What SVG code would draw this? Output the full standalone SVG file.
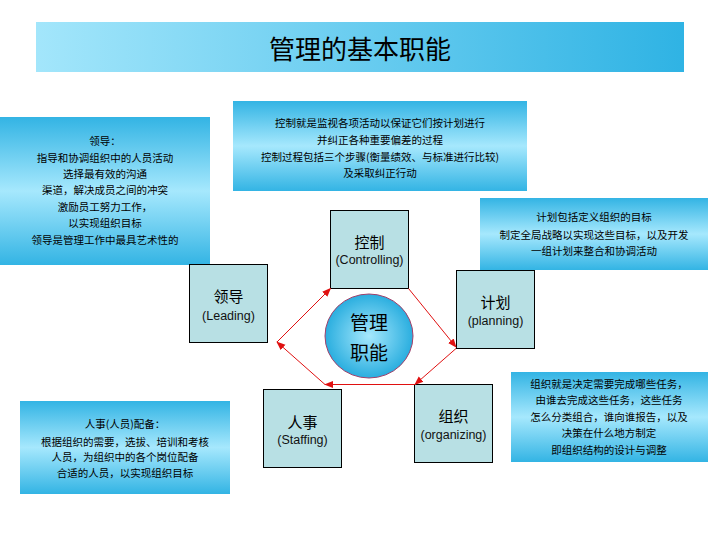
<svg xmlns="http://www.w3.org/2000/svg" width="720" height="540" viewBox="0 0 720 540">
<defs>
<linearGradient id="gTitle" x1="0" y1="0" x2="1" y2="0">
<stop offset="0" stop-color="#a3e6fb"/>
<stop offset="1" stop-color="#2fb3e4"/>
</linearGradient>
<linearGradient id="gBox" x1="0" y1="0" x2="0" y2="1">
<stop offset="0" stop-color="#33b4e4"/>
<stop offset="0.5" stop-color="#a6e8fd"/>
<stop offset="1" stop-color="#33b4e4"/>
</linearGradient>
<radialGradient id="gCircle" cx="0.5" cy="0.5" r="0.5">
<stop offset="0" stop-color="#a6e8fd"/>
<stop offset="1" stop-color="#2aaedf"/>
</radialGradient>
<marker id="arr" viewBox="0 0 10 10" refX="9" refY="5" markerWidth="9" markerHeight="9" markerUnits="userSpaceOnUse" orient="auto">
<path d="M0,1 L10,5 L0,9 z" fill="#e01010"/>
</marker>
</defs>
<style>
.cjk{font-family:"Noto Sans CJK SC","Liberation Sans",sans-serif;fill:#000;text-anchor:middle}
.box{fill:url(#gBox)}
.desc{font-size:10.5px}
.node{fill:#b8e0e4;stroke:#000;stroke-width:1}
.nl{font-size:15px}
.en{font-family:"Liberation Sans",Arial,sans-serif;font-size:12.5px;fill:#111;text-anchor:middle}
.conn{stroke:#e01010;stroke-width:1;fill:none;marker-end:url(#arr)}
</style>
<rect width="720" height="540" fill="#fff"/>

<g id="title">
<rect x="36" y="22" width="648" height="50" fill="url(#gTitle)"/>
<text class="cjk" x="360" y="59" font-size="26">管理的基本职能</text>
</g>

<g id="desc-leading">
<rect class="box" x="0" y="117" width="210" height="148"/>
<text class="cjk desc" x="105" y="145">领导：</text>
<text class="cjk desc" x="105" y="162">指导和协调组织中的人员活动</text>
<text class="cjk desc" x="105" y="178">选择最有效的沟通</text>
<text class="cjk desc" x="105" y="194">渠道，解决成员之间的冲突</text>
<text class="cjk desc" x="105" y="211">激励员工努力工作，</text>
<text class="cjk desc" x="105" y="227">以实现组织目标</text>
<text class="cjk desc" x="105" y="244">领导是管理工作中最具艺术性的</text>
</g>

<g id="desc-controlling">
<rect class="box" x="233" y="101" width="294" height="90"/>
<text class="cjk desc" x="380" y="127">控制就是监视各项活动以保证它们按计划进行</text>
<text class="cjk desc" x="380" y="144">并纠正各种重要偏差的过程</text>
<text class="cjk desc" x="380" y="161">控制过程包括三个步骤(衡量绩效、与标准进行比较)</text>
<text class="cjk desc" x="380" y="177">及采取纠正行动</text>
</g>

<g id="desc-planning">
<rect class="box" x="480" y="198" width="228" height="72"/>
<text class="cjk desc" x="594" y="221">计划包括定义组织的目标</text>
<text class="cjk desc" x="594" y="239">制定全局战略以实现这些目标，以及开发</text>
<text class="cjk desc" x="594" y="255">一组计划来整合和协调活动</text>
</g>

<g id="desc-organizing">
<rect class="box" x="511" y="372" width="197" height="90"/>
<text class="cjk desc" x="609" y="388">组织就是决定需要完成哪些任务，</text>
<text class="cjk desc" x="609" y="404">由谁去完成这些任务，这些任务</text>
<text class="cjk desc" x="609" y="421">怎么分类组合，谁向谁报告，以及</text>
<text class="cjk desc" x="609" y="437">决策在什么地方制定</text>
<text class="cjk desc" x="609" y="454">即组织结构的设计与调整</text>
</g>

<g id="desc-staffing">
<rect class="box" x="20" y="401" width="210" height="93"/>
<text class="cjk desc" x="125" y="428">人事(人员)配备：</text>
<text class="cjk desc" x="125" y="446">根据组织的需要，选拔、培训和考核</text>
<text class="cjk desc" x="125" y="461">人员，为组织中的各个岗位配备</text>
<text class="cjk desc" x="125" y="477">合适的人员，以实现组织目标</text>
</g>

<g id="node-controlling">
<rect class="node" x="330.5" y="210.5" width="78" height="78"/>
<text class="cjk nl" x="369.5" y="248">控制</text>
<text class="en" x="369.5" y="264">(Controlling)</text>
</g>

<g id="node-leading">
<rect class="node" x="189.5" y="264.5" width="78" height="78"/>
<text class="cjk nl" x="228.5" y="302">领导</text>
<text class="en" x="228.5" y="320">(Leading)</text>
</g>

<g id="node-planning">
<rect class="node" x="456.5" y="270.5" width="78" height="78"/>
<text class="cjk nl" x="495.5" y="308">计划</text>
<text class="en" x="495.5" y="325">(planning)</text>
</g>

<g id="node-staffing">
<rect class="node" x="263.5" y="389.5" width="78" height="78"/>
<text class="cjk nl" x="302.5" y="428">人事</text>
<text class="en" x="302.5" y="444">(Staffing)</text>
</g>

<g id="node-organizing">
<rect class="node" x="414.5" y="384.5" width="78" height="78"/>
<text class="cjk nl" x="453.5" y="422">组织</text>
<text class="en" x="453.5" y="439">(organizing)</text>
</g>

<g id="center">
<ellipse cx="369" cy="336" rx="44" ry="42" fill="url(#gCircle)" stroke="#a0406a" stroke-width="1"/>
<text class="cjk" x="369" y="330" font-size="19">管理</text>
<text class="cjk" x="369" y="360" font-size="19">职能</text>
</g>

<g id="connectors">
<line class="conn" x1="408.5" y1="288.5" x2="456" y2="347"/>
<line class="conn" x1="456" y1="348.5" x2="415" y2="384.5"/>
<line class="conn" x1="415" y1="384.5" x2="325" y2="384.5"/>
<line class="conn" x1="325" y1="384.5" x2="277" y2="342"/>
<line class="conn" x1="277" y1="342" x2="330.5" y2="288.5"/>
</g>
</svg>
